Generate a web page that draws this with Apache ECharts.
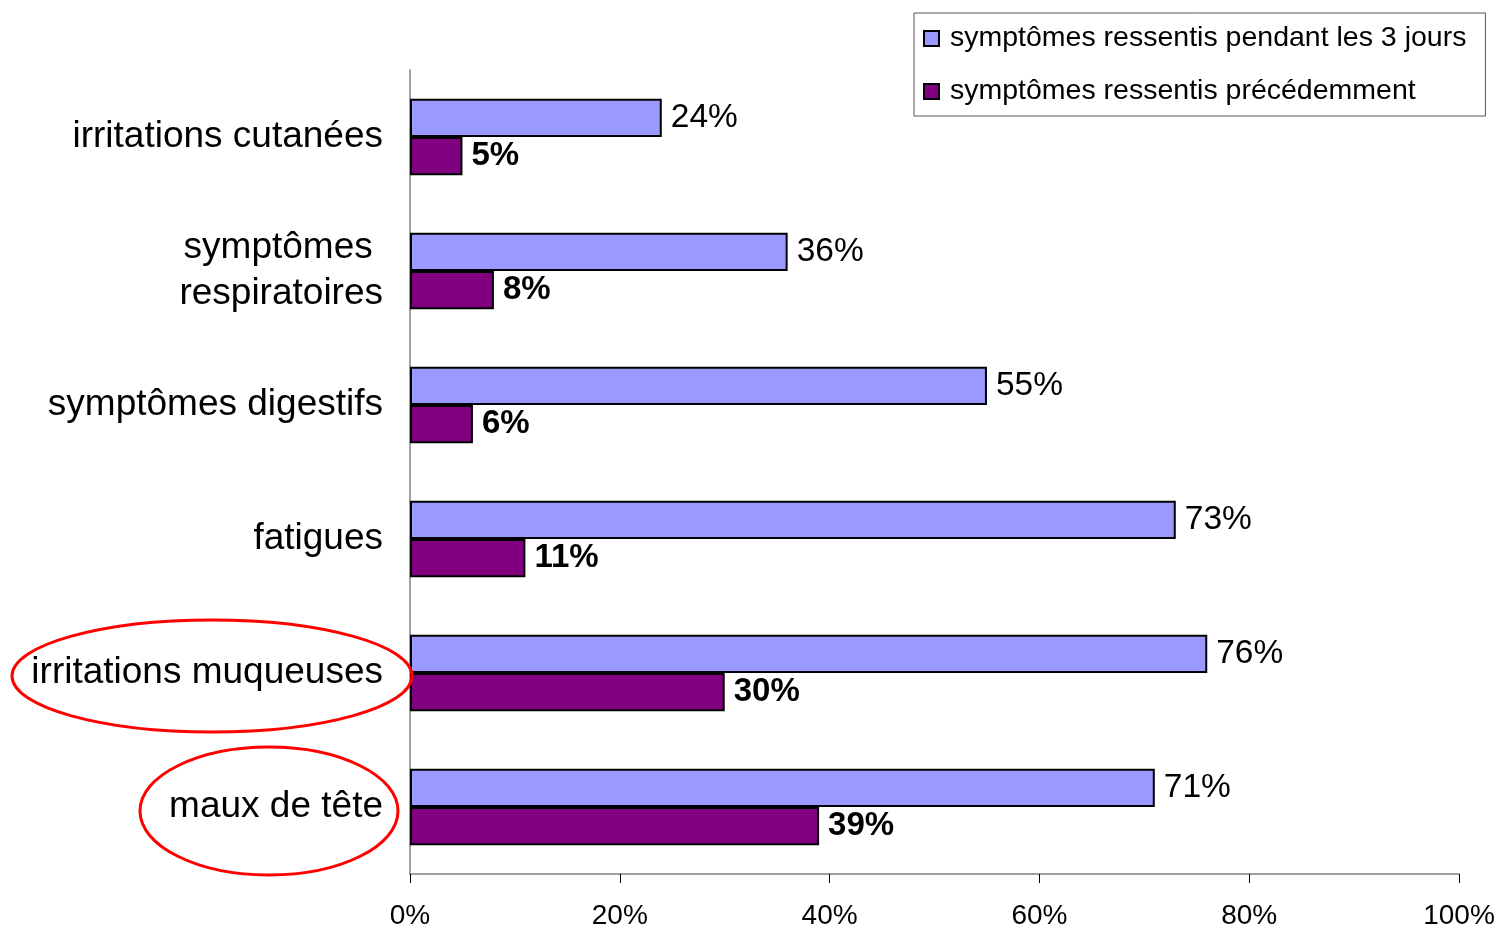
<!DOCTYPE html>
<html>
<head>
<meta charset="utf-8">
<script src="https://cdn.jsdelivr.net/npm/echarts@6/dist/echarts.min.js"></script>
<style>html,body{margin:0;padding:0;background:#fff;}#c{width:1499px;height:927px;}</style>
</head>
<body>
<div id="c"></div>
<script>
const categories = ['irritations cutanées', 'symptômes \nrespiratoires', 'symptômes digestifs', 'fatigues', 'irritations muqueuses', 'maux de tête'];
const seriesNames = ['symptômes ressentis pendant les 3 jours', 'symptômes ressentis précédemment'];
const during3Days = [24, 36, 55, 73, 76, 71];
const previously = [5, 8, 6, 11, 30, 39];
const xTicks = [0, 20, 40, 60, 80, 100];

const FONT = '"Liberation Sans", Arial, sans-serif';
const chart = echarts.init(document.getElementById('c'), null, {renderer: 'canvas'});
chart.setOption({
  backgroundColor: '#fff',
  animation: false,
  grid: {left: 410, right: 40, top: 70, bottom: 53, containLabel: false, outerBoundsMode: 'none'},
  legend: {
    orient: 'vertical',
    left: 914, top: 13,
    padding: [9, 19, 8, 9],
    itemGap: 20,
    itemWidth: 15, itemHeight: 15,
    backgroundColor: '#fff',
    borderColor: '#555', borderWidth: 1,
    icon: 'rect',
    textStyle: {fontFamily: FONT, fontSize: 28.5, lineHeight: 31, color: '#000', padding: [2, 0, 0, 6]},
    itemStyle: {borderColor: '#000', borderWidth: 2},
    data: seriesNames
  },
  xAxis: {
    type: 'value', min: 0, max: 100, interval: 20,
    axisLine: {show: true, lineStyle: {color: '#808080', width: 1.5}},
    axisTick: {show: true, length: 9, lineStyle: {color: '#000', width: 1}},
    splitLine: {show: false},
    axisLabel: {fontFamily: FONT, fontSize: 28, color: '#000', margin: 28, formatter: v => xTicks.includes(v) ? v + '%' : ''}
  },
  yAxis: {
    type: 'category', data: categories, inverse: true,
    axisLine: {show: true, lineStyle: {color: '#808080', width: 1.5}},
    axisTick: {show: false},
    axisLabel: {fontFamily: FONT, fontSize: 37, color: '#000', margin: 27, lineHeight: 46, align: 'right', padding: [9, 0, 0, 0]}
  },
  series: [
    {
      name: seriesNames[0], type: 'bar', data: during3Days,
      barGap: '0%', barCategoryGap: '43%',
      itemStyle: {color: '#9999FF', borderColor: '#000', borderWidth: 2},
      label: {show: true, position: 'right', distance: 9, formatter: '{c}%', fontFamily: FONT, fontSize: 33.5, color: '#000'}
    },
    {
      name: seriesNames[1], type: 'bar', data: previously,
      barGap: '0%', barCategoryGap: '43%',
      itemStyle: {color: '#800080', borderColor: '#000', borderWidth: 2},
      label: {show: true, position: 'right', distance: 9, formatter: '{c}%', fontFamily: FONT, fontSize: 33, fontWeight: 'bold', color: '#000'}
    }
  ],
  graphic: [
    {type: 'ellipse', shape: {cx: 212, cy: 676, rx: 200, ry: 56}, style: {fill: 'none', stroke: '#FF0000', lineWidth: 3}, z: 100},
    {type: 'ellipse', shape: {cx: 269, cy: 811, rx: 129, ry: 64}, style: {fill: 'none', stroke: '#FF0000', lineWidth: 3}, z: 100}
  ]
});
</script>
</body>
</html>
